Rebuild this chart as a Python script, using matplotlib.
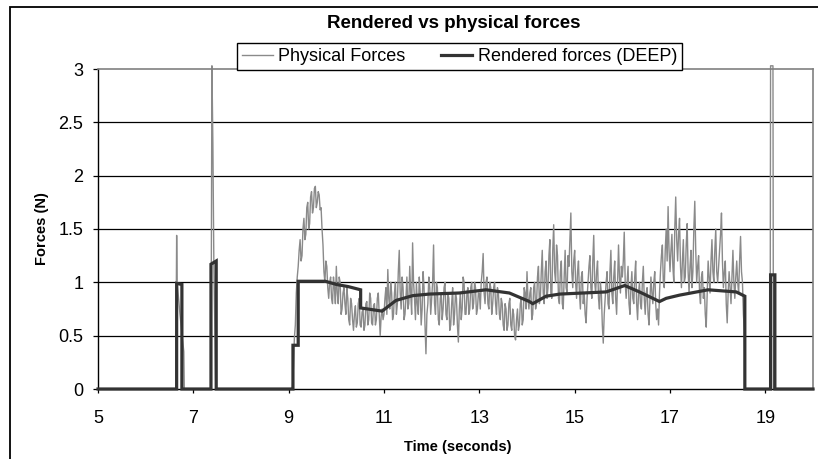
import numpy as np
import matplotlib
matplotlib.use("Agg")
import matplotlib.pyplot as plt
from matplotlib.patches import Rectangle

plt.rcParams['font.family'] = ['Liberation Sans', 'DejaVu Sans']

# ---------------- data ----------------
title = "Rendered vs physical forces"
x_label = "Time (seconds)"
y_label = "Forces (N)"
series_names = ["Physical Forces", "Rendered forces (DEEP)"]

x_ticks = [5, 7, 9, 11, 13, 15, 17, 19]
y_ticks = [0, 0.5, 1, 1.5, 2, 2.5, 3]
y_tick_labels = ["0", "0.5", "1", "1.5", "2", "2.5", "3"]

# physical forces: early pulses
phys_early_t = [5.0, 6.63, 6.65, 6.66, 6.72, 6.80, 6.81, 7.37, 7.39, 7.41, 7.43, 7.46, 7.47, 8.96]
phys_early_v = [0.0, 0.0, 1.44, 1.0, 0.7, 0.35, 0.0, 0.0, 3.03, 2.3, 1.2, 0.3, 0.0, 0.0]

# physical forces during main contact, one list per second, sampled every 0.02 s
phys_step = 0.02
phys_sec_starts = [9.0, 10.0, 11.0, 12.0, 13.0, 14.0, 15.0, 16.0, 17.0, 18.0]
phys_9 = [0.0, 0.0, 0.0, 0.0, 0.02, 0.2, 0.48, 0.6, 0.9, 1.05,
          1.15, 1.3, 1.4, 1.2, 1.25, 1.5, 1.6, 1.4, 1.45, 1.7,
          1.75, 1.5, 1.55, 1.8, 1.85, 1.65, 1.7, 1.88, 1.9, 1.7,
          1.75, 1.85, 1.82, 1.68, 1.7, 1.5, 1.35, 1.1, 1.0, 1.2,
          1.15, 0.95, 0.85, 1.0, 1.05, 0.85, 0.8, 1.05, 0.95, 0.8]
phys_10 = [1.15, 0.9, 0.8, 1.05, 1.0, 0.7, 0.75, 0.9, 0.95, 0.8,
           0.7, 0.95, 0.85, 0.65, 0.6, 0.85, 0.8, 0.65, 0.55, 0.7,
           0.78, 0.58, 0.62, 0.8, 0.85, 0.6, 0.58, 0.72, 0.75, 0.55,
           0.6, 0.8, 0.82, 0.6, 0.65, 0.9, 0.85, 0.62, 0.6, 0.78,
           0.8, 0.6, 0.65, 0.85, 0.9, 0.7, 0.5, 0.68, 0.75, 0.65]
phys_11 = [0.7, 0.85, 0.95, 0.7, 1.12, 0.85, 0.75, 1.0, 0.9, 0.65,
           0.7, 0.9, 1.0, 0.7, 0.8, 1.1, 1.3, 0.9, 0.75, 1.05,
           0.95, 0.65, 0.7, 0.85, 1.05, 0.75, 0.8, 1.15, 0.9, 0.7,
           1.37, 1.0, 0.85, 0.65, 1.0, 0.8, 0.7, 1.05, 0.9, 0.6,
           0.75, 1.1, 0.95, 0.6, 0.33, 0.7, 0.8, 1.05, 0.95, 0.7]
phys_12 = [0.85, 1.0, 1.35, 0.8, 0.7, 1.0, 0.95, 0.65, 0.6, 0.85,
           0.9, 0.65, 0.75, 0.95, 1.0, 0.7, 0.65, 0.9, 0.85, 0.55,
           0.6, 0.8, 0.95, 0.6, 0.7, 0.9, 0.85, 0.6, 0.44, 0.75,
           0.9, 0.65, 0.75, 1.05, 1.0, 0.7, 0.7, 0.9, 0.95, 0.7,
           0.75, 0.95, 1.0, 0.75, 0.8, 1.0, 0.95, 0.7, 0.75, 0.9]
phys_13 = [0.9, 0.75, 1.0, 1.1, 1.27, 0.9, 0.8, 1.0, 1.05, 0.8,
           0.75, 1.0, 0.95, 0.7, 0.8, 0.95, 1.0, 0.8, 0.7, 0.95,
           0.9, 0.7, 0.65, 0.85, 0.8, 0.6, 0.55, 0.8, 0.75, 0.55,
           0.6, 0.8, 0.85, 0.6, 0.55, 0.75, 0.7, 0.5, 0.46, 0.65,
           0.75, 0.55, 0.6, 0.8, 0.85, 0.6, 0.65, 0.95, 0.9, 0.75]
phys_14 = [1.1, 0.85, 0.75, 0.9, 0.95, 0.65, 0.7, 0.95, 1.0, 0.75,
           0.8, 1.05, 1.15, 0.8, 0.85, 1.1, 1.3, 0.9, 0.8, 1.1,
           1.2, 0.85, 0.95, 1.25, 1.4, 0.9, 0.85, 1.3, 1.54, 1.1,
           1.0, 1.35, 1.25, 0.85, 0.8, 1.1, 1.2, 0.8, 0.75, 1.05,
           1.3, 0.95, 0.9, 1.25, 1.15, 1.4, 1.65, 1.1, 0.95, 1.2]
phys_15 = [1.3, 1.0, 0.85, 1.1, 1.2, 0.9, 0.75, 1.05, 1.1, 0.8,
           0.9, 0.7, 0.62, 0.85, 1.0, 1.15, 1.25, 0.95, 0.85, 1.2,
           1.44, 1.0, 0.9, 1.1, 1.2, 0.85, 0.75, 1.0, 0.9, 0.6,
           0.43, 0.7, 0.85, 1.0, 1.1, 0.8, 0.75, 1.1, 1.3, 0.9,
           0.8, 1.05, 1.2, 0.85, 0.7, 1.0, 1.35, 1.05, 0.9, 1.15]
phys_16 = [1.05, 1.2, 1.47, 1.0, 0.85, 1.0, 1.15, 0.8, 0.7, 0.95,
           1.1, 0.85, 0.8, 1.05, 1.2, 0.8, 0.65, 0.9, 1.0, 0.8,
           0.75, 1.0, 1.15, 0.85, 0.7, 0.9, 0.95, 0.7, 0.6, 0.85,
           1.05, 0.9, 0.8, 1.0, 1.1, 0.8, 0.65, 0.75, 0.6, 0.9,
           1.1, 1.25, 1.35, 1.0, 0.95, 1.3, 1.5, 1.2, 1.71, 1.3]
phys_17 = [1.1, 1.3, 1.45, 1.15, 1.0, 1.5, 1.8, 1.4, 1.2, 1.45,
           1.6, 1.15, 0.95, 1.2, 1.4, 1.0, 1.05, 1.35, 1.55, 1.1,
           0.9, 1.15, 1.3, 0.95, 1.1, 1.5, 1.76, 1.3, 1.0, 1.15,
           1.25, 0.9, 0.8, 1.05, 1.1, 0.85, 0.95, 0.7, 0.58, 0.9,
           1.2, 1.05, 0.9, 1.2, 1.4, 1.1, 1.0, 1.3, 1.5, 1.1]
phys_18 = [1.0, 1.15, 1.3, 1.45, 1.65, 1.2, 0.95, 1.1, 1.2, 0.8,
           0.62, 0.9, 1.1, 0.95, 0.8, 1.05, 1.3, 1.0, 0.85, 1.05,
           1.2, 1.0, 0.9, 1.2, 1.43, 1.1, 1.0, 0.7, 0.55]

# physical forces: end of contact and last pulse
phys_late_t = [18.58, 19.10, 19.11, 19.16, 19.17, 20.0]
phys_late_v = [0.0, 0.0, 3.03, 3.03, 0.0, 0.0]

# rendered forces (DEEP)
rend_t = [5.0, 6.65, 6.65, 6.76, 6.76, 7.37, 7.37, 7.48, 7.48, 9.09, 9.09,
          9.20, 9.20, 9.77, 10.0, 10.25, 10.51, 10.51, 10.96, 11.25, 11.6,
          11.95, 12.58, 13.14, 13.63, 14.05, 14.12, 14.4, 14.69, 15.66,
          16.05, 16.36, 16.78, 16.92, 17.2, 17.8, 18.39, 18.57, 18.57,
          19.11, 19.11, 19.2, 19.2, 20.0]
rend_v = [0.0, 0.0, 0.99, 0.98, 0.0, 0.0, 1.17, 1.2, 0.0, 0.0, 0.41,
          0.41, 1.01, 1.01, 0.98, 0.96, 0.93, 0.76, 0.73, 0.83, 0.875,
          0.89, 0.9, 0.93, 0.9, 0.82, 0.80, 0.87, 0.89, 0.91,
          0.97, 0.91, 0.82, 0.85, 0.88, 0.93, 0.91, 0.87, 0.0,
          0.0, 1.07, 1.07, 0.0, 0.0]

# ---------------- assemble ----------------
phys_secs = [phys_9, phys_10, phys_11, phys_12, phys_13,
             phys_14, phys_15, phys_16, phys_17, phys_18]
mid_t, mid_v = [], []
for start, vals in zip(phys_sec_starts, phys_secs):
    mid_t.extend(start + phys_step * np.arange(len(vals)))
    mid_v.extend(vals)
phys_t = np.concatenate([phys_early_t, mid_t, phys_late_t])
phys_v = np.concatenate([phys_early_v, mid_v, phys_late_v])

W, H = 818, 459
fig = plt.figure(figsize=(W / 100, H / 100), dpi=100)
fig.patch.set_facecolor('white')

# outer chart border (clipped at right and bottom like the reference)
fig.patches.append(Rectangle((10 / W, -0.05), 1.2, 1 - 7 / H + 0.05,
                             transform=fig.transFigure, fill=False,
                             edgecolor='black', linewidth=1.3))

ax = fig.add_axes([98 / W, 1 - 389 / H, 715 / W, 320 / H])
ax.set_xlim(5, 20)
ax.set_ylim(0, 3)

for yv in y_ticks[1:-1]:
    ax.axhline(yv, color='black', linewidth=0.9, zorder=0)

l1, = ax.plot(phys_t, phys_v, color='#8a8a8a', linewidth=1.0,
              clip_on=False, zorder=2, label=series_names[0])
l2, = ax.plot(rend_t, rend_v, color='#333333', linewidth=2.3,
              clip_on=False, zorder=3, label=series_names[1],
              solid_joinstyle='miter')

ax.set_xticks(x_ticks)
ax.set_xticklabels([str(v) for v in x_ticks])
ax.set_yticks(y_ticks)
ax.set_yticklabels(y_tick_labels)
ax.tick_params(axis='y', direction='out', length=3.6, width=0.9,
               labelsize=13, pad=7)
ax.tick_params(axis='x', direction='out', length=3.2, width=0.9,
               labelsize=13, pad=12)

for s in ['left', 'bottom']:
    ax.spines[s].set_color('black')
    ax.spines[s].set_linewidth(1.0)
for s in ['top', 'right']:
    ax.spines[s].set_color('#808080')
    ax.spines[s].set_linewidth(1.2)

fig.text(454 / W, 1 - 23 / H, title, ha='center', va='center',
         fontsize=13.5, fontweight='bold')
fig.text(458 / W, 1 - 447 / H, x_label, ha='center', va='center',
         fontsize=10.5, fontweight='bold')
fig.text(42 / W, 1 - 229 / H, y_label, ha='center', va='center',
         rotation=90, fontsize=10.5, fontweight='bold')

leg = fig.legend(handles=[l1, l2], loc='center',
                 bbox_to_anchor=(459.5 / W, 1 - 56.5 / H),
                 bbox_transform=fig.transFigure, ncol=2, fontsize=13,
                 frameon=True, fancybox=False, framealpha=1,
                 edgecolor='black', handlelength=1.7, handletextpad=0.3,
                 columnspacing=2.0, borderpad=0.3, borderaxespad=0)
leg.get_frame().set_linewidth(1.0)
leg.set_zorder(10)

fig.savefig('out.png', dpi=100)
